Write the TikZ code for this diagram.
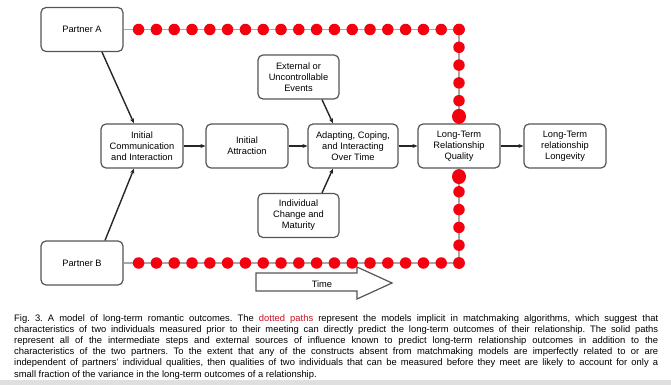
\documentclass[tikz,border=0pt]{standalone}
\usepackage{fontspec}
\setmainfont{Liberation Sans}
\usetikzlibrary{arrows.meta,calc}
\definecolor{boxgray}{HTML}{555555}
\definecolor{guidegray}{HTML}{A8A8A8}
\definecolor{dotred}{HTML}{F5000F}
\definecolor{capred}{HTML}{C8101E}
\begin{document}
\begin{tikzpicture}[x=1pt,y=-1pt,
  every node/.style={font=\fontsize{9.3}{11}\selectfont},
  box/.style={draw=boxgray,line width=1.2pt,rounded corners=5pt,fill=white,
    minimum width=82pt,minimum height=44pt,inner sep=0pt,align=center},
  link/.style={-{Stealth[length=5pt,width=4pt]},line width=1.4pt,black!85},
  guide/.style={guidegray,line width=1.5pt},
  reddots/.style={dotred,line width=11.5pt,line cap=round,dash pattern=on 0pt off 17.8pt},
  timearrow/.style={draw=boxgray,line width=1.2pt,fill=white}]
  \useasboundingbox (0,0) rectangle (671,385);
  \fill[gray!25] (0,380) rectangle (671,385);
  % boxes
  \node[box] (partA) at (82,29.5) {Partner A};
  \node[box] (partB) at (82,263) {Partner B};
  \node[box] (initcomm) at (142,146) {Initial\\Communication\\and Interaction};
  \node[box] (initattr) at (247,146) {Initial\\Attraction};
  \node[box,minimum width=90pt] (adapt) at (353,146) {Adapting, Coping,\\and Interacting\\Over Time};
  \node[box,minimum width=81pt] (extev) at (298.5,77) {External or\\Uncontrollable\\Events};
  \node[box,minimum width=81pt] (change) at (298.5,215.5) {Individual\\Change and\\Maturity};
  \node[box] (quality) at (459,146) {Long-Term\\Relationship\\Quality};
  \node[box] (longev) at (565,146) {Long-Term\\relationship\\Longevity};
  % solid paths
  \draw[link] ($(partA.south)+(20,0)$) -- ($(initcomm.north)+(-8,0)$);
  \draw[link] ($(partB.north)+(23,0)$) -- ($(initcomm.south)+(-8,0)$);
  \draw[link] (initcomm) -- (initattr);
  \draw[link] (initattr) -- (adapt);
  \draw[link] (adapt) -- (quality);
  \draw[link] (quality) -- (longev);
  \draw[link] ($(extev.south)+(23.5,0)$) -- ($(adapt.north)+(-20,0)$);
  \draw[link] ($(change.north)+(23.5,0)$) -- ($(adapt.south)+(-20,0)$);
  % time
  \draw[timearrow] (256,273) -- (357,273) -- (357,267) -- (392,283) -- (357,299) -- (357,291) -- (256,291) -- cycle;
  \node (time) at (322,284) {Time};
  % dotted paths
  \coordinate (topc) at (quality.north |- partA.east);
  \coordinate (botc) at (quality.south |- partB.east);
  \draw[guide] (partA.east) -- (topc) -- (quality.north);
  \draw[guide] (partB.east) -- (botc) -- (quality.south);
  \draw[reddots] (topc) -- (partA.east);
  \draw[reddots] (topc) -- ($(quality.north)+(0,-6)$);
  \draw[reddots] (botc) -- (partB.east);
  \draw[reddots] (botc) -- ($(quality.south)+(0,6)$);
  \fill[dotred] ($(quality.north)+(0,-7)$) ellipse (7 and 7.5);
  \fill[dotred] ($(quality.south)+(0,8)$) ellipse (7 and 7.5);
  % caption
  \node[anchor=base west,text width=644pt,align=justify,inner sep=0pt,
    font=\fontsize{9.4}{11.2}\selectfont\frenchspacing] (caption) at (14,321)
  {Fig. 3. A model of long-term romantic outcomes. The \textcolor{capred}{dotted paths} represent the models implicit in matchmaking algorithms, which suggest that\linebreak
  characteristics of two individuals measured prior to their meeting can directly predict the long-term outcomes of their relationship. The solid paths\linebreak
  represent all of the intermediate steps and external sources of influence known to predict long-term relationship outcomes in addition to the\linebreak
  characteristics of the two partners. To the extent that any of the constructs absent from matchmaking models are imperfectly related to or are\linebreak
  independent of partners' individual qualities, then qualities of two individuals that can be measured before they meet are likely to account for only a\linebreak
  small fraction of the variance in the long-term outcomes of a relationship.};
\end{tikzpicture}
\end{document}
